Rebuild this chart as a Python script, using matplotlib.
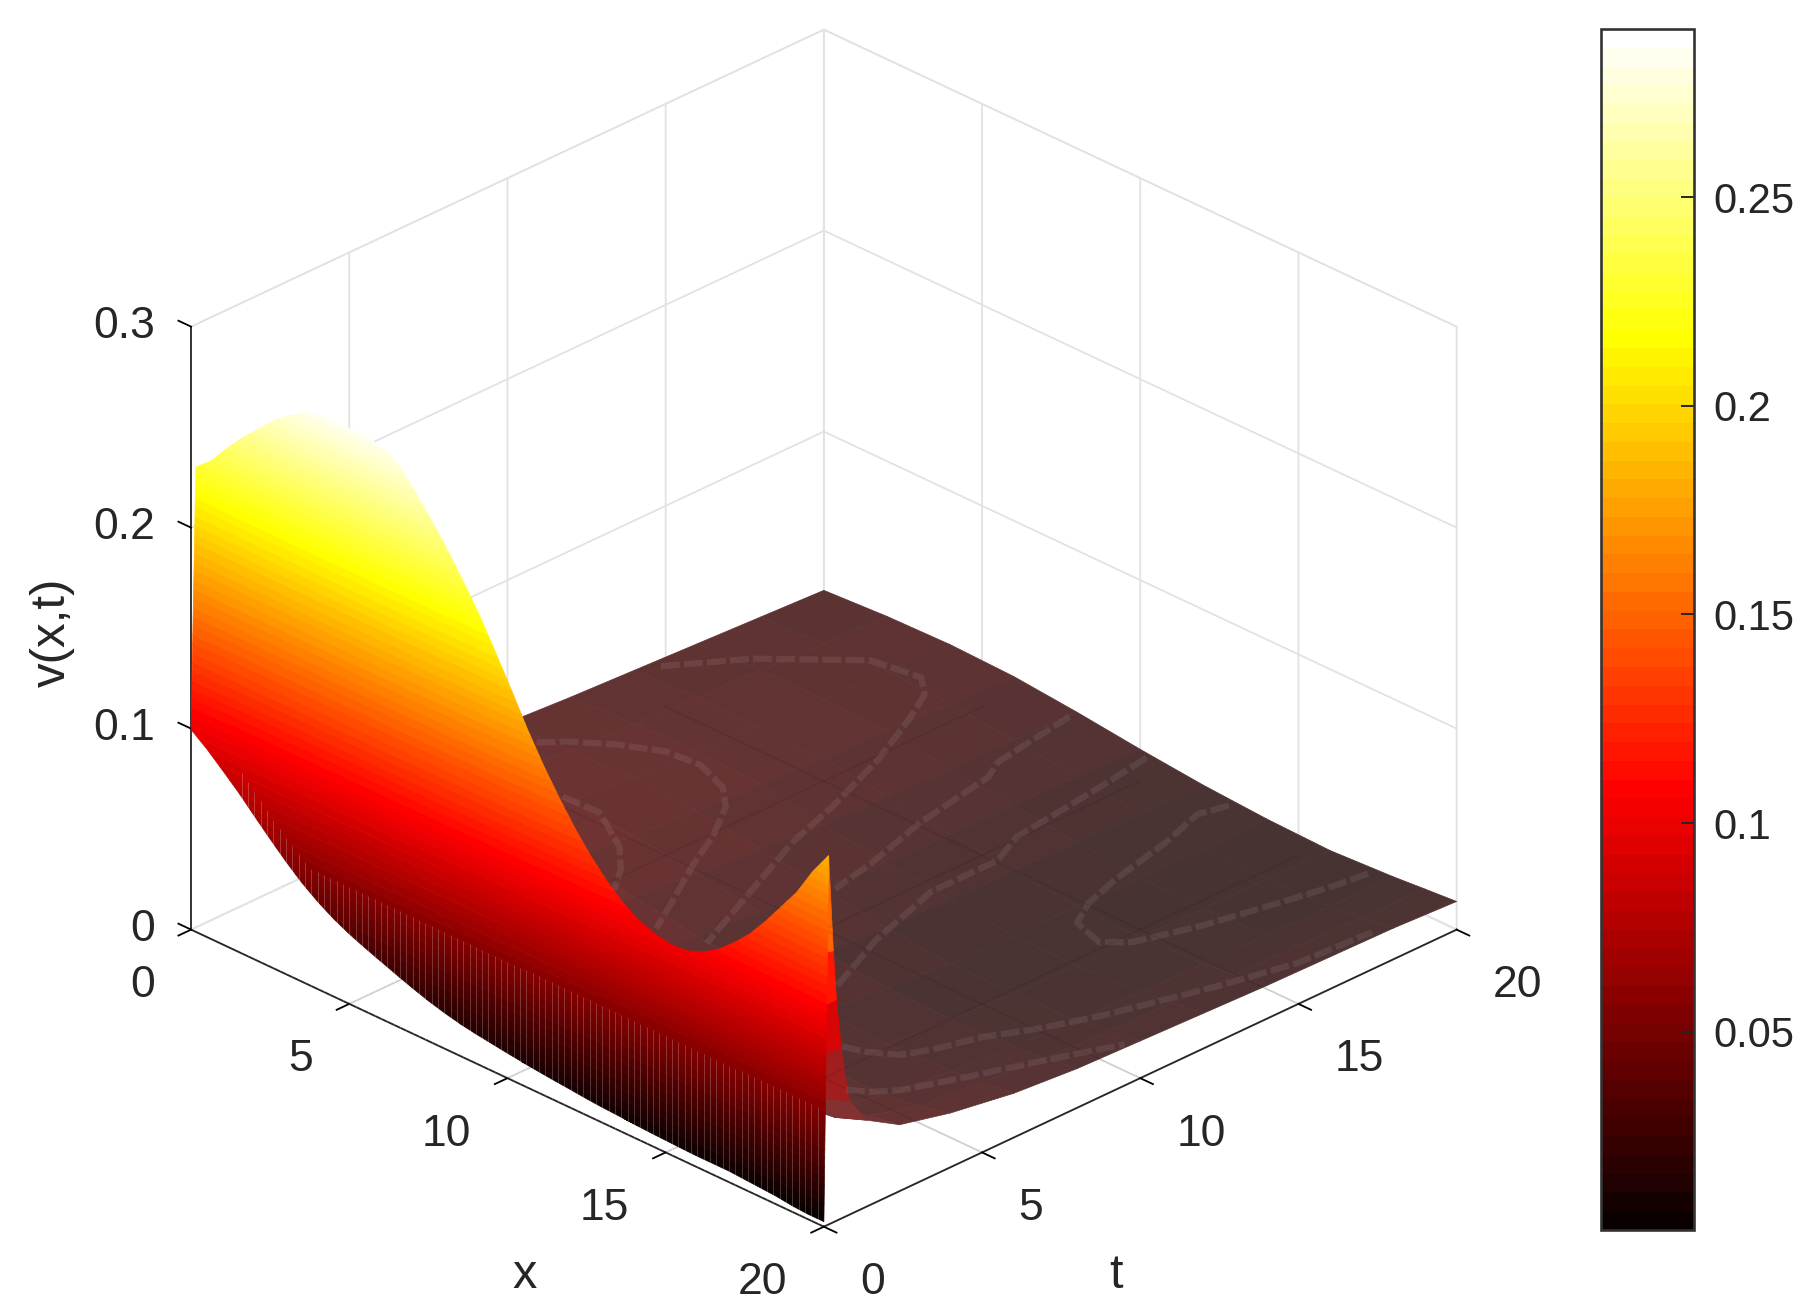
import numpy as np
import matplotlib
matplotlib.use("Agg")
import matplotlib.pyplot as plt
from matplotlib.cm import ScalarMappable
from matplotlib.colors import Normalize
from mpl_toolkits.mplot3d.art3d import Poly3DCollection, Line3DCollection

plt.rcParams["font.family"] = ["Liberation Sans", "DejaVu Sans"]
plt.rcParams["grid.color"] = "#e2e2e2"
plt.rcParams["grid.linewidth"] = 1.3
plt.rcParams["xtick.major.width"] = 1.3
plt.rcParams["ytick.major.width"] = 1.3
TEXT = "#262626"

# steep front of the surface: v at t=0 and along the ridge
x_wall = np.arange(0, 20.5, 0.5)
t_wall = [0.0, 0.15]
v_start = [.0995, .0935, .0865, .0793, .0713, .0635, .056, .0492, .0435, .0387, .0348,
           .0315, .0285, .0255, .0226, .02, .0178, .016, .0146, .0135, .0124,
           .0114, .0105, .0097, .009, .0082, .0076, .0072, .0067, .0063, .006,
           .0057, .0055, .0055, .0055, .005, .0045, .004, .003, .0025, .002]
v_ridge = [.229, .236, .246, .255, .263, .271, .277, .282, .284, .2842, .2842,
           .284, .2815, .2765, .2665, .2565, .2455, .2335, .2205, .206, .191,
           .1755, .1615, .149, .1375, .1275, .119, .112, .107, .104, .1025, .103,
           .106, .111, .118, .126, .136, .147, .158, .172, .1835]

# the rest of the surface, behind the ridge
x_floor = [0, 2, 4, 6, 8, 10, 12, 14, 16, 18, 19, 20]
t_floor = [.15, .3, .4, .55, .8, 1.35, 2.4, 4, 6, 8, 10, 12, 14, 16, 18, 20]
v_floor = [
    [.21, .24, .26, .26, .23, .17, .125, .098, .098, .128, .158, .1835],
    [.2, .225, .24, .235, .2, .155, .11, .085, .085, .11, .125, .135],
    [.17, .19, .2, .19, .16, .125, .09, .07, .07, .085, .095, .11],
    [.14, .155, .16, .15, .125, .098, .072, .058, .056, .065, .072, .085],
    [.11, .12, .12, .11, .09, .072, .055, .045, .042, .047, .05, .057],
    [.08, .085, .085, .075, .06, .05, .04, .034, .032, .035, .037, .043],
    [.06, .062, .06, .052, .044, .037, .031, .027, .026, .028, .03, .033],
    [.047, .048, .046, .041, .036, .031, .026, .022, .02, .021, .023, .027],
    [.038, .039, .038, .035, .031, .0265, .022, .018, .017, .0185, .02, .022],
    [.033, .034, .034, .032, .0278, .0235, .0185, .0152, .0145, .0155, .0175, .0195],
    [.029, .03, .031, .0295, .0255, .0205, .0155, .0125, .0125, .014, .016, .0185],
    [.027, .0285, .0295, .028, .0225, .0185, .015, .0118, .0114, .0132, .0152, .0175],
    [.0255, .027, .0275, .026, .022, .018, .0145, .0118, .0112, .0125, .0145, .0165],
    [.024, .0255, .026, .0255, .0208, .0175, .014, .011, .0105, .012, .014, .016],
    [.0225, .024, .0252, .0235, .0205, .017, .0135, .0108, .0103, .0115, .0135, .0155],
    [.021, .0228, .0235, .0225, .0195, .0158, .0127, .0107, .0098, .0115, .0128, .014],
]

# iso-lines showing on the low part: level, x, t
iso_lines = [
    (.034, [3.7, 4.8, 6.27, 7.08, 7.64], [8.05, 8.1, 7.27, 6.5, 5.74]),
    (.0295, [1.16, 1.6, 2.49, 3.5, 4.5, 5.6, 6.3, 7.1, 7.7, 8.8, 9.3],
     [9.76, 10.27, 10.96, 11.5, 11.6, 11.2, 10.6, 9.4, 8.2, 6.3, 5.4]),
    (.025, [.25, 1.44, 3.35, 4.74, 5.38, 5.95, 6.82, 7.68, 8.26, 9.35, 10.3],
     [14.6, 16.3, 18.1, 18.34, 17.8, 16.75, 14.9, 12.6, 10.74, 8.2, 6.0]),
    (.0205, [8.1, 8.3, 8.5, 8.85, 9.3, 9.9, 10.2],
     [19.67, 18.3, 17, 16.35, 13.77, 11.6, 10.15]),
    (.016, [10.4, 10.65, 10.85, 11, 11.5, 11.5, 12.25, 13.2],
     [19.8, 18.05, 16.45, 15.1, 14, 11.9, 9.4, 7.2]),
    (.0115, [13, 12.8, 13.25, 13.7, 14.07, 14.55, 15.55, 16.07, 16.6, 17, 17.36, 17.5],
     [19.8, 19, 17.55, 15.5, 14.3, 13.45, 13.15, 13.67, 15.25, 17, 18.7, 19.8]),
    (.016, [15.3, 15.87, 16.5, 16.84, 17.2, 17.75, 18.35, 19.2, 19.7, 19.83],
     [5.27, 5.47, 5.9, 6.6, 7.8, 8.85, 10.35, 13.2, 15.3, 17.5]),
    (.0205, [17.13, 17.6, 18, 18.6, 19.17, 20],
     [3.57, 3.9, 4.42, 5.9, 7.43, 9.5]),
]

ticks = [0, 5, 10, 15, 20]
z_ticks = [0, 0.1, 0.2, 0.3]
z_ticklabels = ["0", "0.1", "0.2", "0.3"]
cbar_ticks = [0.05, 0.1, 0.15, 0.2, 0.25]
cbar_ticklabels = ["0.05", "0.1", "0.15", "0.2", "0.25"]
v_min, v_max = 0.0025, 0.2903

cmap = plt.get_cmap("hot", 64)
norm = Normalize(v_min, v_max)

fig = plt.figure(figsize=(18.18, 13.16), dpi=100)
ax = fig.add_axes([107 / 1818, -29 / 1316, 1396 / 1818, 1396 / 1316],
                  projection="3d", proj_type="ortho", computed_zorder=False)
ax.view_init(elev=28, azim=-45)
ax.set_box_aspect((895, 895, 683))
ax.set_xlim(0, 20)
ax.set_ylim(0, 20)
ax.set_zlim(0, 0.3)

for axis in (ax.xaxis, ax.yaxis, ax.zaxis):
    axis.set_pane_color((1, 1, 1, 1))
    axis.pane.set_edgecolor("#e2e2e2")
    axis.line.set_color(TEXT)
    axis.line.set_linewidth(1.3)
    axis._axinfo["tick"]["inward_factor"] = 0.25
    axis._axinfo["tick"]["outward_factor"] = 0.0
    axis._axinfo["tick"]["color"] = TEXT

# z axis on the left corner, its ticks running back along x
ax.zaxis.set_ticks_position("lower")
ax.zaxis._get_tickdir = lambda position: 0
ax.zaxis._axinfo["tick"]["inward_factor"] = 0.0
ax.zaxis._axinfo["tick"]["outward_factor"] = 0.25

ax.set_xticks(ticks)
ax.set_yticks(ticks)
ax.set_zticks(z_ticks, z_ticklabels)
ax.tick_params(labelsize=32, labelcolor=TEXT, pad=22)
ax.zaxis.set_tick_params(pad=7)
for tick in ax.xaxis.get_major_ticks():
    tick.label1.set_ha("right")
    tick.label1.set_va("center_baseline")
for tick in ax.yaxis.get_major_ticks():
    tick.label1.set_ha("left")
    tick.label1.set_va("center_baseline")
for tick in ax.zaxis.get_major_ticks():
    tick.label1.set_ha("right")
    tick.label1.set_va("center")
fig.text(525 / 1818, 1 - 1276 / 1316, "x", fontsize=35, color=TEXT, ha="center", va="center")
fig.text(1116 / 1818, 1 - 1276 / 1316, "t", fontsize=35, color=TEXT, ha="center", va="center")
fig.text(52 / 1818, 1 - 632 / 1316, "v(x,t)", fontsize=35.5, color=TEXT, ha="center",
         va="center", rotation=90)

# low part: colours are washed out and darkened, front stays pure
X, T = np.meshgrid(x_floor, t_floor)
Z = np.array(v_floor)
Zc = (Z[:-1, :-1] + Z[1:, :-1] + Z[:-1, 1:] + Z[1:, 1:]) / 4
base = plt.get_cmap("hot")(norm(Zc))[..., :3]
mix = np.clip((Zc - 0.045) / 0.05, 0, 1)[..., None]
muted = 0.72 * base + 0.2
rgb = np.clip(mix * base + (1 - mix) * muted, 0, 1)
ax.plot_surface(X, T, Z, facecolors=rgb, rstride=1, cstride=1, shade=False,
                linewidth=0.5, zorder=2)

# the grid behind shows faintly through the surface
for g in ticks[1:-1]:
    ax.plot([g, g], [0, 20], [0, 0], color="black", alpha=0.08, lw=1.3, zorder=2.5)
    ax.plot([0, 20], [g, g], [0, 0], color="black", alpha=0.08, lw=1.3, zorder=2.5)

for level, xs, ts in iso_lines:
    ax.plot(xs, ts, [level] * len(xs), color="white", alpha=0.08, lw=4.5,
            dashes=(3.0, 0.7), zorder=3)

# steep front: one polygon per colour band, cut by the contouring of the two rows
levels = np.linspace(v_min, v_max, 65)
tmp_fig, tmp_ax = plt.subplots()
cs = tmp_ax.contourf(x_wall, t_wall, np.array([v_start, v_ridge]), levels=levels)
bands, band_colors = [], []
for lo, hi, segs in zip(levels[:-1], levels[1:], cs.allsegs):
    for seg in segs:
        f = seg[:, 1] / t_wall[1]
        z = (1 - f) * np.interp(seg[:, 0], x_wall, v_start) + f * np.interp(seg[:, 0], x_wall, v_ridge)
        bands.append(np.column_stack([seg[:, 0], seg[:, 1], z]))
        band_colors.append(cmap(norm((lo + hi) / 2)))
plt.close(tmp_fig)
ax.add_collection3d(Poly3DCollection(bands, facecolors=band_colors,
                                     edgecolors=band_colors, linewidths=0.5,
                                     zorder=4))

# fine mesh shows as pale stripes low on the front
stripe_x = np.arange(1.6, 20, 0.2)
stripe_top = np.maximum(0.058, np.interp(stripe_x, x_wall, v_start) + 0.012)
stripes = [[(s, 0, 0), (s, 0, top)] for s, top in zip(stripe_x, stripe_top)]
ax.add_collection3d(Line3DCollection(stripes, colors="white", alpha=0.22,
                                     linewidths=0.7, zorder=5))

cax = fig.add_axes([1601 / 1818, 1 - 1230 / 1316, 93 / 1818, 1201 / 1316])
cbar = fig.colorbar(ScalarMappable(norm=norm, cmap=cmap), cax=cax)
cbar.set_ticks(cbar_ticks, labels=cbar_ticklabels)
cbar.ax.tick_params(direction="in", length=9.4, width=1.4, color=TEXT,
                    labelsize=30, labelcolor=TEXT, pad=14)
cbar.outline.set_edgecolor("#333333")
cbar.outline.set_linewidth(1.9)

fig.savefig("out.png", dpi=100)
